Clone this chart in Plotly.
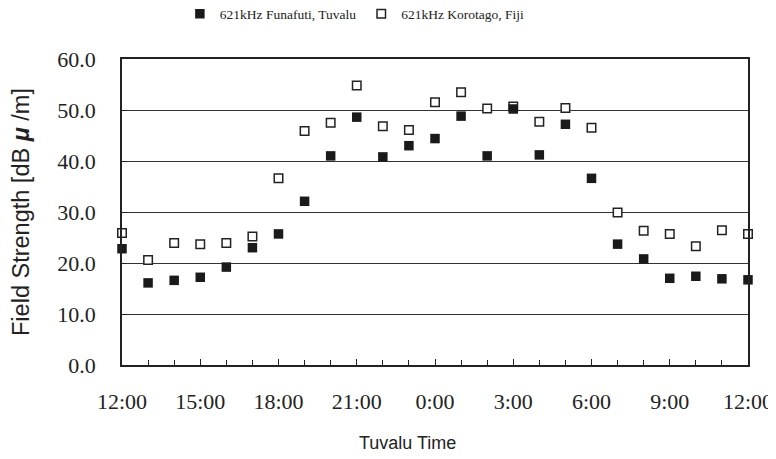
import plotly.graph_objects as go

hours = list(range(25))
tick_vals = [0, 3, 6, 9, 12, 15, 18, 21, 24]
tick_text = ["12:00", "15:00", "18:00", "21:00", "0:00", "3:00", "6:00", "9:00", "12:00"]
x_title = "Tuvalu Time"
y_title = "Field Strength [dB <b><i>μ</i></b> /m]"

funafuti = [22.8, 16.1, 16.6, 17.2, 19.2, 23.0, 25.7, 32.1, 41.0, 48.6, 40.8, 43.0,
            44.4, 48.8, 41.0, 50.2, 41.2, 47.2, 36.6, 23.7, 20.8, 17.0, 17.4, 16.9, 16.7]
korotago = [25.9, 20.6, 23.9, 23.7, 23.9, 25.2, 36.6, 45.9, 47.5, 54.8, 46.8, 46.1,
            51.5, 53.5, 50.3, 50.7, 47.7, 50.4, 46.5, 29.9, 26.3, 25.7, 23.3, 26.4, 25.7]

fig = go.Figure()
fig.add_trace(go.Scatter(
    x=hours, y=korotago, mode="markers", name="621kHz Korotago, Fiji",
    legendrank=2, cliponaxis=False,
    marker=dict(symbol="square", size=8.5, color="white",
                line=dict(color="#222", width=1.5))))
fig.add_trace(go.Scatter(
    x=hours, y=funafuti, mode="markers", name="621kHz Funafuti, Tuvalu",
    legendrank=1, cliponaxis=False,
    marker=dict(symbol="square", size=9.5, color="#1a1a1a",
                line=dict(color="#1a1a1a", width=0))))

fig.add_annotation(text=x_title, xref="paper", yref="paper", x=0.456, y=-0.255,
                   xanchor="center", yanchor="middle", showarrow=False,
                   font=dict(family="Liberation Sans", size=18, color="#222"))

fig.update_layout(
    width=776, height=459,
    margin=dict(l=114, r=36, t=51, b=102),
    plot_bgcolor="white", paper_bgcolor="white",
    font=dict(family="Liberation Serif", color="#222"),
    showlegend=True,
    legend=dict(orientation="h", xref="container", yref="container",
                x=0.447, xanchor="center", y=1 - 6 / 459, yanchor="middle",
                font=dict(family="Liberation Serif", size=13.5, color="#222"),
                itemwidth=30, tracegroupgap=0, bgcolor="rgba(0,0,0,0)"),
    xaxis=dict(range=[0, 24], tickvals=tick_vals, ticktext=tick_text, automargin=False,
               ticks="inside", ticklen=6, tickcolor="#222",
               minor=dict(dtick=1, ticks="inside", ticklen=5, tickcolor="#222", showgrid=False),
               showgrid=False, zeroline=False,
               showline=True, linecolor="#222", linewidth=1.5, mirror=True,
               tickfont=dict(family="Liberation Serif", size=22, color="#222"),
               ticklabelstandoff=16),
    yaxis=dict(range=[0, 60], dtick=10, tickformat=".1f", automargin=False,
               ticks="inside", ticklen=5, tickcolor="#222",
               showgrid=True, gridcolor="#333", gridwidth=1, zeroline=False,
               showline=True, linecolor="#222", linewidth=1.5, mirror=True,
               tickfont=dict(family="Liberation Serif", size=22, color="#222"),
               ticklabelstandoff=20,
               title=dict(text=y_title, standoff=25,
                          font=dict(family="Liberation Sans", size=23.5, color="#222"))),
)

fig.write_html("out.html")
